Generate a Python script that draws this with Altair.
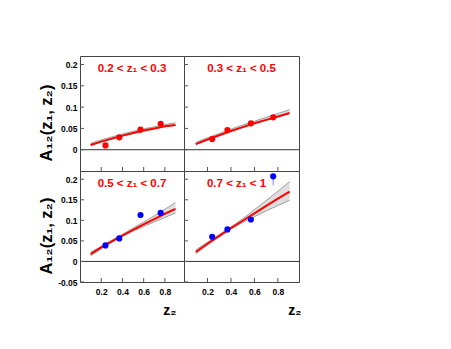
import altair as alt
import pandas as pd

# ---- data ----
z2_points = [0.24, 0.37, 0.57, 0.76]
a12_points = [
    [0.010, 0.029, 0.047, 0.061],
    [0.025, 0.046, 0.062, 0.076],
    [0.039, 0.056, 0.113, 0.118],
    [0.060, 0.078, 0.102, 0.207],
]
point_colors = ["#ff0000", "#ff0000", "#0000ff", "#0000ff"]
err_lo_p4 = [None, None, None, 0.185]

curve_z2 = [0.1, 0.2, 0.3, 0.4, 0.5, 0.6, 0.7, 0.8, 0.9]
fit = [
    [0.011, 0.019, 0.026, 0.033, 0.039, 0.045, 0.050, 0.055, 0.058],
    [0.013, 0.024, 0.034, 0.044, 0.053, 0.062, 0.070, 0.078, 0.086],
    [0.018, 0.034, 0.049, 0.063, 0.077, 0.090, 0.103, 0.116, 0.128],
    [0.023, 0.043, 0.062, 0.081, 0.099, 0.117, 0.135, 0.153, 0.170],
]
band_lo = [
    [0.010, 0.018, 0.025, 0.032, 0.038, 0.044, 0.049, 0.054, 0.057],
    [0.012, 0.023, 0.033, 0.043, 0.052, 0.061, 0.069, 0.077, 0.085],
    [0.014, 0.031, 0.047, 0.062, 0.074, 0.085, 0.096, 0.107, 0.118],
    [0.019, 0.040, 0.060, 0.079, 0.095, 0.109, 0.123, 0.136, 0.149],
]
band_hi = [
    [0.015, 0.023, 0.030, 0.037, 0.043, 0.049, 0.054, 0.059, 0.063],
    [0.017, 0.028, 0.038, 0.048, 0.058, 0.067, 0.076, 0.085, 0.094],
    [0.022, 0.037, 0.052, 0.066, 0.081, 0.096, 0.111, 0.127, 0.143],
    [0.028, 0.047, 0.065, 0.084, 0.104, 0.126, 0.148, 0.171, 0.194],
]
labels = ["0.2 < z\u2081 < 0.3", "0.3 < z\u2081 < 0.5", "0.5 < z\u2081 < 0.7", "0.7 < z\u2081 < 1"]

x_ticks = [0.2, 0.4, 0.6, 0.8]
y_ticks_top = [0, 0.05, 0.1, 0.15, 0.2]
y_ticks_bottom = [-0.05, 0, 0.05, 0.1, 0.15, 0.2]

FONT = "Liberation Sans"


def panel(k, w, h, left, bottom):
    xs = alt.Scale(domain=[0.0, 0.98], nice=False, zero=False)
    ys = alt.Scale(domain=[-0.05, 0.22], nice=False, zero=False)
    yvals = y_ticks_bottom if bottom else y_ticks_top

    if bottom:
        xaxis = alt.Axis(values=x_ticks, ticks=False, domain=False, grid=False,
                         labelFont=FONT, labelFontWeight="bold", labelFontSize=8.5,
                         labelPadding=5, labelColor="black",
                         title="z\u2082", titleFont=FONT, titleFontWeight="bold",
                         titleFontSize=14, titleAlign="right", titleAnchor="end",
                         titleX=(w - 8) if left else (w + 2), titlePadding=8,
                         titleColor="black")
    else:
        xaxis = None
    if left:
        yaxis = alt.Axis(values=yvals, ticks=False, domain=False, grid=False,
                         labelFont=FONT, labelFontWeight="bold", labelFontSize=8.5,
                         labelPadding=3, labelColor="black",
                         labelExpr="toString(datum.value)",
                         title="A\u2081\u2082(z\u2081, z\u2082)", titleFont=FONT,
                         titleFontWeight="bold", titleFontSize=16.5,
                         titleX=-26, titleY=h / 2 + 9, titleColor="black")
    else:
        yaxis = None

    def X(f):
        return alt.X(f, type="quantitative", scale=xs, axis=xaxis)

    def Y(f):
        return alt.Y(f, type="quantitative", scale=ys, axis=yaxis)

    cur = pd.DataFrame({"z2": curve_z2, "fit": fit[k], "lo": band_lo[k], "hi": band_hi[k]})
    pts = pd.DataFrame({"z2": z2_points, "A": a12_points[k]})

    band = alt.Chart(cur).mark_area(color="#dedede", opacity=1).encode(
        x=X("z2"), y=Y("lo"), y2="hi")
    lo_line = alt.Chart(cur).mark_line(color="#8a8a8a", strokeWidth=0.8).encode(
        x=X("z2"), y=Y("lo"))
    hi_line = alt.Chart(cur).mark_line(color="#8a8a8a", strokeWidth=0.8).encode(
        x=X("z2"), y=Y("hi"))
    red = alt.Chart(cur).mark_line(color="#ff0000", strokeWidth=2).encode(
        x=X("z2"), y=Y("fit"))
    dots = alt.Chart(pts).mark_circle(color=point_colors[k], size=38, opacity=1).encode(
        x=X("z2"), y=Y("A"))
    zero = alt.Chart(pd.DataFrame({"v": [0]})).mark_rule(color="#333333", strokeWidth=1).encode(
        y=Y("v"))
    xt = alt.Chart(pd.DataFrame({"z2": x_ticks})).mark_rule(color="#555555", strokeWidth=1).encode(
        x=X("z2"), y=alt.value(h), y2=alt.value(h - 4))
    yt = alt.Chart(pd.DataFrame({"t": yvals})).mark_rule(color="#555555", strokeWidth=1).encode(
        y=Y("t"), x=alt.value(0), x2=alt.value(4))
    txt = alt.Chart(pd.DataFrame({"s": [labels[k]]})).mark_text(
        color="#ff0000", font=FONT, fontWeight="bold", fontSize=11.5, baseline="middle",
        align="center").encode(x=alt.value(w / 2 if k != 3 else w / 2 - 5),
                               y=alt.value(13), text="s:N")

    layers = [band, lo_line, hi_line, red, zero, xt, yt, dots]
    if k == 3:
        eb = pd.DataFrame({"z2": [z2_points[3]], "lo": [err_lo_p4[3]], "A": [a12_points[3][3]]})
        layers.append(alt.Chart(eb).mark_rule(color="#8080ff", strokeWidth=1).encode(
            x=X("z2"), y=Y("lo"), y2="A"))
        layers = layers[:-2] + [layers[-1], layers[-2]]
    layers.append(txt)
    return alt.layer(*layers).properties(width=w, height=h)


chart = alt.concat(
    panel(0, 104, 115, True, False), panel(1, 115, 115, False, False),
    panel(2, 104, 111, True, True), panel(3, 115, 111, False, True),
    columns=2, spacing=0, bounds="flush", align="each",
).properties(
    padding={"left": 29, "top": 47, "right": 5, "bottom": 5}
).configure_view(stroke="#444444", strokeWidth=1).configure_concat(spacing=0)

chart.save("out.html", embed_options={"renderer": "svg", "actions": False})
